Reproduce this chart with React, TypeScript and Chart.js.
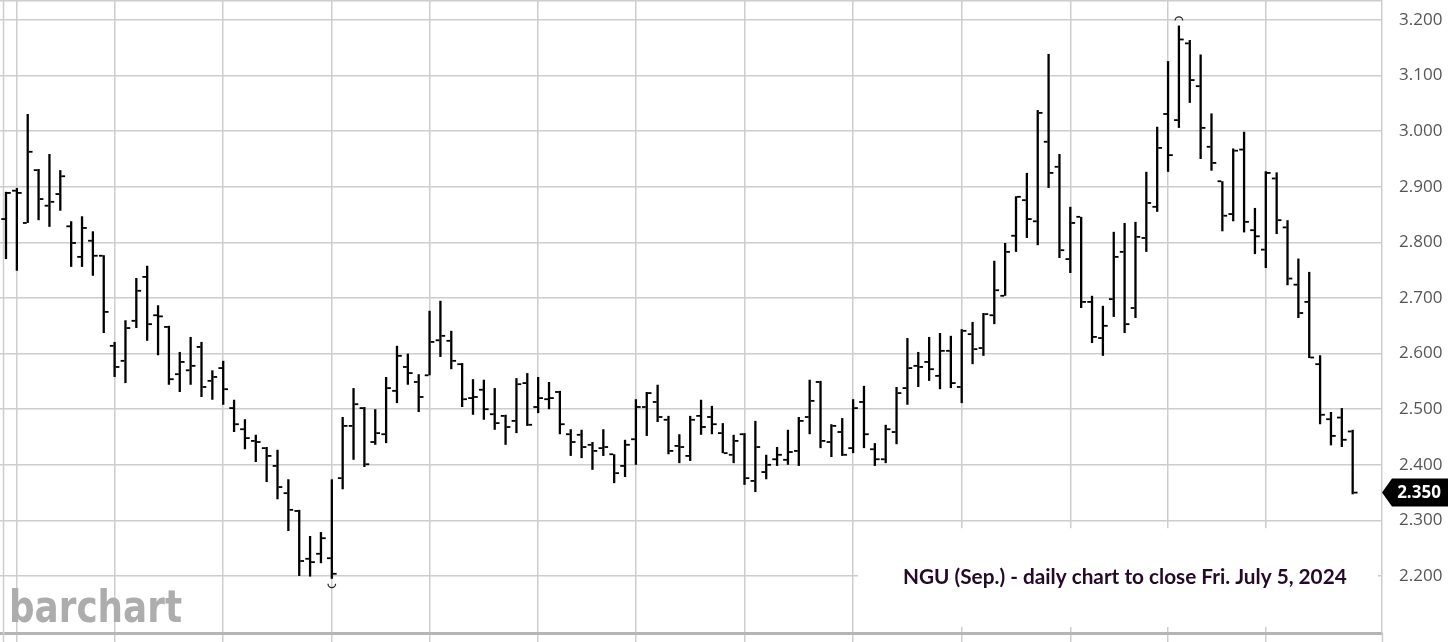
import React, { useEffect, useRef } from 'react';
import { Chart, registerables } from 'chart.js';

Chart.register(...registerables);

// Trading days (2024) shown on the chart
const dates: string[] = [
  'Jan 5',
  'Jan 8', 'Jan 9', 'Jan 10', 'Jan 11', 'Jan 12',
  'Jan 16', 'Jan 17', 'Jan 18', 'Jan 19',
  'Jan 22', 'Jan 23', 'Jan 24', 'Jan 25', 'Jan 26',
  'Jan 29', 'Jan 30', 'Jan 31', 'Feb 1', 'Feb 2',
  'Feb 5', 'Feb 6', 'Feb 7', 'Feb 8', 'Feb 9',
  'Feb 12', 'Feb 13', 'Feb 14', 'Feb 15', 'Feb 16',
  'Feb 20', 'Feb 21', 'Feb 22', 'Feb 23',
  'Feb 26', 'Feb 27', 'Feb 28', 'Feb 29', 'Mar 1',
  'Mar 4', 'Mar 5', 'Mar 6', 'Mar 7', 'Mar 8',
  'Mar 11', 'Mar 12', 'Mar 13', 'Mar 14', 'Mar 15',
  'Mar 18', 'Mar 19', 'Mar 20', 'Mar 21', 'Mar 22',
  'Mar 25', 'Mar 26', 'Mar 27', 'Mar 28',
  'Apr 1', 'Apr 2', 'Apr 3', 'Apr 4', 'Apr 5',
  'Apr 8', 'Apr 9', 'Apr 10', 'Apr 11', 'Apr 12',
  'Apr 15', 'Apr 16', 'Apr 17', 'Apr 18', 'Apr 19',
  'Apr 22', 'Apr 23', 'Apr 24', 'Apr 25', 'Apr 26',
  'Apr 29', 'Apr 30', 'May 1', 'May 2', 'May 3',
  'May 6', 'May 7', 'May 8', 'May 9', 'May 10',
  'May 13', 'May 14', 'May 15', 'May 16', 'May 17',
  'May 20', 'May 21', 'May 22', 'May 23', 'May 24',
  'May 28', 'May 29', 'May 30', 'May 31',
  'Jun 3', 'Jun 4', 'Jun 5', 'Jun 6', 'Jun 7',
  'Jun 10', 'Jun 11', 'Jun 12', 'Jun 13', 'Jun 14',
  'Jun 17', 'Jun 18', 'Jun 20', 'Jun 21',
  'Jun 24', 'Jun 25', 'Jun 26', 'Jun 27', 'Jun 28',
  'Jul 1', 'Jul 2', 'Jul 3', 'Jul 5',
];

const openP: number[] = [
  2.842, 2.893, 2.835, 2.930, 2.866, 2.887, 2.829, 2.774, 2.803, 2.776,
  2.614, 2.587, 2.659, 2.738, 2.669, 2.648, 2.563, 2.570, 2.612, 2.551,
  2.574, 2.502, 2.464, 2.443, 2.430, 2.398, 2.349, 2.317, 2.231, 2.240,
  2.232, 2.376, 2.470, 2.502, 2.441, 2.455, 2.533, 2.576, 2.549, 2.561,
  2.624, 2.623, 2.581, 2.520, 2.535, 2.491, 2.488, 2.479, 2.547, 2.504,
  2.518, 2.531, 2.455, 2.454, 2.436, 2.430, 2.419, 2.398, 2.446, 2.504,
  2.513, 2.481, 2.434, 2.416, 2.488, 2.486, 2.457, 2.418, 2.455, 2.371,
  2.387, 2.410, 2.409, 2.425, 2.486, 2.549, 2.441, 2.459, 2.430, 2.513,
  2.428, 2.410, 2.459, 2.538, 2.578, 2.585, 2.560, 2.605, 2.540, 2.635,
  2.610, 2.669, 2.704, 2.812, 2.876, 2.838, 2.981, 2.936, 2.770, 2.846,
  2.693, 2.628, 2.698, 2.783, 2.682, 2.808, 2.864, 3.031, 3.020, 3.158,
  3.081, 2.972, 2.910, 2.851, 2.967, 2.822, 2.787, 2.915, 2.827, 2.724,
  2.693, 2.581, 2.482, 2.485, 2.460,
];

const highP: number[] = [
  2.891, 2.898, 3.031, 2.932, 2.959, 2.930, 2.838, 2.847, 2.820, 2.777,
  2.621, 2.660, 2.736, 2.758, 2.687, 2.650, 2.603, 2.630, 2.621, 2.570,
  2.587, 2.517, 2.482, 2.454, 2.432, 2.427, 2.374, 2.319, 2.272, 2.279,
  2.374, 2.486, 2.538, 2.504, 2.500, 2.558, 2.614, 2.600, 2.563, 2.677,
  2.695, 2.641, 2.583, 2.554, 2.553, 2.538, 2.490, 2.556, 2.565, 2.558,
  2.549, 2.533, 2.464, 2.463, 2.441, 2.464, 2.419, 2.445, 2.518, 2.531,
  2.544, 2.488, 2.455, 2.488, 2.517, 2.506, 2.475, 2.454, 2.457, 2.479,
  2.418, 2.432, 2.463, 2.486, 2.553, 2.551, 2.473, 2.484, 2.518, 2.542,
  2.439, 2.472, 2.540, 2.628, 2.603, 2.630, 2.637, 2.632, 2.644, 2.657,
  2.673, 2.767, 2.799, 2.883, 2.925, 3.038, 3.139, 2.959, 2.864, 2.846,
  2.704, 2.686, 2.819, 2.835, 2.837, 2.927, 3.008, 3.126, 3.190, 3.164,
  3.138, 3.032, 2.910, 2.969, 2.999, 2.862, 2.928, 2.926, 2.840, 2.771,
  2.747, 2.597, 2.495, 2.502, 2.463,
];

const lowP: number[] = [
  2.770, 2.749, 2.835, 2.840, 2.828, 2.857, 2.756, 2.756, 2.740, 2.637,
  2.558, 2.547, 2.646, 2.623, 2.597, 2.544, 2.531, 2.544, 2.522, 2.517,
  2.508, 2.459, 2.428, 2.405, 2.369, 2.338, 2.281, 2.200, 2.199, 2.223,
  2.195, 2.356, 2.409, 2.396, 2.436, 2.439, 2.511, 2.544, 2.495, 2.561,
  2.594, 2.572, 2.504, 2.490, 2.481, 2.463, 2.436, 2.457, 2.470, 2.493,
  2.500, 2.455, 2.416, 2.412, 2.391, 2.416, 2.367, 2.378, 2.400, 2.452,
  2.477, 2.419, 2.403, 2.407, 2.454, 2.455, 2.421, 2.403, 2.364, 2.351,
  2.374, 2.398, 2.400, 2.398, 2.455, 2.430, 2.414, 2.416, 2.421, 2.430,
  2.398, 2.403, 2.437, 2.508, 2.540, 2.551, 2.536, 2.538, 2.511, 2.581,
  2.596, 2.653, 2.704, 2.783, 2.808, 2.795, 2.898, 2.772, 2.745, 2.682,
  2.619, 2.596, 2.666, 2.637, 2.664, 2.783, 2.855, 2.927, 3.006, 3.051,
  2.950, 2.929, 2.820, 2.838, 2.818, 2.779, 2.754, 2.815, 2.723, 2.664,
  2.592, 2.473, 2.435, 2.432, 2.347,
];

const closeP: number[] = [
  2.889, 2.889, 2.963, 2.878, 2.873, 2.919, 2.799, 2.826, 2.776, 2.675,
  2.576, 2.646, 2.713, 2.653, 2.667, 2.554, 2.585, 2.578, 2.540, 2.558,
  2.536, 2.473, 2.448, 2.441, 2.416, 2.360, 2.319, 2.227, 2.225, 2.268,
  2.204, 2.470, 2.509, 2.401, 2.457, 2.538, 2.596, 2.565, 2.522, 2.621,
  2.632, 2.587, 2.518, 2.522, 2.500, 2.475, 2.468, 2.545, 2.472, 2.520,
  2.520, 2.473, 2.441, 2.432, 2.425, 2.432, 2.385, 2.436, 2.504, 2.529,
  2.486, 2.425, 2.432, 2.481, 2.468, 2.473, 2.421, 2.443, 2.376, 2.432,
  2.400, 2.418, 2.423, 2.479, 2.515, 2.443, 2.470, 2.418, 2.502, 2.455,
  2.410, 2.464, 2.529, 2.574, 2.576, 2.572, 2.605, 2.547, 2.641, 2.608,
  2.671, 2.714, 2.783, 2.882, 2.842, 3.033, 2.925, 2.786, 2.835, 2.693,
  2.630, 2.650, 2.774, 2.653, 2.810, 2.871, 2.970, 2.957, 3.165, 3.092,
  3.006, 2.943, 2.848, 2.965, 2.837, 2.811, 2.925, 2.840, 2.735, 2.673,
  2.593, 2.490, 2.452, 2.445, 2.350,
];

// vertical grid lines (first session of every second week)
const gridDates: string[] = [
  'Jan 8', 'Jan 22', 'Feb 5', 'Feb 20', 'Mar 4', 'Mar 18', 'Apr 1',
  'Apr 15', 'Apr 29', 'May 13', 'May 28', 'Jun 10', 'Jun 24',
];

const yTickValues: number[] = [2.2, 2.3, 2.4, 2.5, 2.6, 2.7, 2.8, 2.9, 3.0, 3.1, 3.2];

const noteText = 'NGU (Sep.) - daily chart to close Fri. July 5, 2024';
const watermarkText = 'barchart';

const GRID = '#cdcdcd';

const ohlcPlugin = {
  id: 'ohlcExtras',
  beforeDatasetsDraw(chart: any) {
    const { ctx, chartArea } = chart;
    const x = chart.scales.x;
    const y = chart.scales.y;
    ctx.save();
    // top and left frame lines
    ctx.strokeStyle = GRID;
    ctx.lineWidth = 1.5;
    ctx.beginPath();
    ctx.moveTo(chartArea.left, 0.75);
    ctx.lineTo(chartArea.right, 0.75);
    ctx.moveTo(3.5, 0);
    ctx.lineTo(3.5, chart.height);
    ctx.moveTo(chartArea.right + 0.5, chartArea.bottom);
    ctx.lineTo(chartArea.right + 0.5, chart.height);
    ctx.stroke();

    // white note box
    const bx0 = x.getPixelForValue(78.45);
    const by0 = y.getPixelForValue(2.286);
    const bx1 = chartArea.right - 4;
    const by1 = chartArea.bottom - 6;
    ctx.fillStyle = '#ffffff';
    ctx.fillRect(bx0, by0, bx1 - bx0, by1 - by0);

    // note text
    ctx.fillStyle = '#240a26';
    ctx.textBaseline = 'alphabetic';
    ctx.textAlign = 'left';
    let fs = 20;
    ctx.font = `bold ${fs}px Lato`;
    const w0 = ctx.measureText(noteText).width;
    fs = (fs * 444) / w0;
    ctx.font = `bold ${fs}px Lato`;
    ctx.fillText(noteText, x.getPixelForValue(82.6), y.getPixelForValue(2.186));

    // watermark
    ctx.fillStyle = '#adadad';
    ctx.font = 'bold 45px "DejaVu Sans"';
    const ww = ctx.measureText(watermarkText).width;
    ctx.save();
    ctx.translate(chartArea.left + 9, chartArea.bottom - 11);
    ctx.scale(173 / ww, 1);
    ctx.fillText(watermarkText, 0, 0);
    ctx.restore();
    ctx.restore();
  },
  afterDatasetsDraw(chart: any) {
    const { ctx } = chart;
    const x = chart.scales.x;
    const y = chart.scales.y;
    ctx.save();
    ctx.fillStyle = '#000000';
    for (let i = 0; i < openP.length; i++) {
      const px = x.getPixelForValue(i);
      const po = y.getPixelForValue(openP[i]);
      const pc = y.getPixelForValue(closeP[i]);
      ctx.fillRect(px - 4.8, po - 0.9, 3.8, 1.8);
      ctx.fillRect(px + 1.0, pc - 0.9, 3.8, 1.8);
    }
    // high / low markers
    let hi = 0;
    let lo = 0;
    for (let i = 1; i < highP.length; i++) {
      if (highP[i] > highP[hi]) hi = i;
      if (lowP[i] < lowP[lo]) lo = i;
    }
    ctx.strokeStyle = '#222222';
    ctx.lineWidth = 1.2;
    ctx.beginPath();
    ctx.arc(x.getPixelForValue(hi), y.getPixelForValue(highP[hi]) - 5, 3.8, Math.PI, 2 * Math.PI);
    ctx.stroke();
    ctx.beginPath();
    ctx.arc(x.getPixelForValue(lo), y.getPixelForValue(lowP[lo]) + 5, 3.8, 0, Math.PI);
    ctx.stroke();
    ctx.restore();
  },
  afterDraw(chart: any) {
    const { ctx, chartArea } = chart;
    const y = chart.scales.y;
    const last = closeP[closeP.length - 1];
    const py = y.getPixelForValue(last);
    const left = chartArea.right;
    ctx.save();
    ctx.fillStyle = '#000000';
    ctx.beginPath();
    ctx.moveTo(left, py);
    ctx.lineTo(left + 10, py - 14);
    ctx.lineTo(left + 66, py - 14);
    ctx.lineTo(left + 66, py + 14);
    ctx.lineTo(left + 10, py + 14);
    ctx.closePath();
    ctx.fill();
    ctx.fillStyle = '#ffffff';
    ctx.font = 'bold 17px "Open Sans"';
    ctx.textAlign = 'center';
    ctx.textBaseline = 'middle';
    ctx.fillText(last.toFixed(3), left + 37, py + 1);
    ctx.restore();
  },
};

export default function App() {
  const canvasRef = useRef<HTMLCanvasElement | null>(null);

  useEffect(() => {
    document.body.style.margin = '0';
    const canvas = canvasRef.current;
    if (!canvas) return;
    const gridIdx = gridDates.map((d) => dates.indexOf(d));
    const chart = new Chart(canvas, {
      type: 'bar',
      data: {
        datasets: [
          {
            label: 'NGU',
            data: dates.map((d, i) => ({ x: i, y: [lowP[i], highP[i]] })) as any,
            backgroundColor: '#000000',
            borderWidth: 0,
            barThickness: 2.3,
            inflateAmount: 0,
          } as any,
        ],
      },
      options: {
        animation: false,
        responsive: false,
        devicePixelRatio: 1,
        maintainAspectRatio: false,
        layout: { padding: 0 },
        plugins: {
          legend: { display: false },
          tooltip: { enabled: false },
          title: { display: false },
        },
        scales: {
          x: {
            type: 'linear',
            position: 'bottom',
            min: -0.5525,
            max: 126.7,
            offset: false,
            grid: {
              offset: false,
              color: GRID,
              lineWidth: 1.5,
              drawTicks: true,
              tickLength: 9,
              tickColor: GRID,
            },
            border: { display: true, color: '#b5b5b5', width: 3 },
            ticks: { display: false },
            afterBuildTicks: (scale: any) => {
              scale.ticks = gridIdx.map((v) => ({ value: v }));
            },
            afterFit: (scale: any) => {
              scale.height = 9;
              scale.paddingLeft = 0;
              scale.paddingRight = 0;
            },
          },
          y: {
            type: 'linear',
            position: 'right',
            min: 2.0975,
            max: 3.236,
            beginAtZero: false,
            grid: { color: GRID, lineWidth: 1.5, drawTicks: false },
            border: { display: true, color: GRID, width: 1.5 },
            ticks: {
              padding: 17,
              color: '#555555',
              font: { family: 'Open Sans', size: 17 },
              callback: (v: any) => Number(v).toFixed(3),
            },
            afterBuildTicks: (scale: any) => {
              scale.ticks = yTickValues.map((v) => ({ value: v }));
            },
            afterFit: (scale: any) => {
              scale.width = 74;
              scale.paddingTop = 0;
              scale.paddingBottom = 0;
            },
          },
        },
      } as any,
      plugins: [ohlcPlugin],
    });
    return () => chart.destroy();
  }, []);

  return (
    <div style={{ position: 'absolute', left: 0, top: 0, width: 1456, height: 642, background: '#fff' }}>
      <canvas ref={canvasRef} width={1456} height={642} style={{ display: 'block' }} />
    </div>
  );
}
